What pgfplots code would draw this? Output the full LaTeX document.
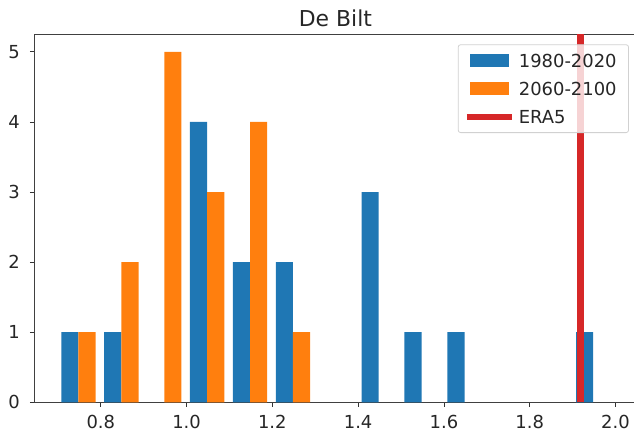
\documentclass[border=0pt]{standalone}
\usepackage{fontspec}
\setmainfont{DejaVu Sans}
\usepackage{pgfplots}
\pgfplotsset{compat=1.18}
\definecolor{tabblue}{HTML}{1F77B4}
\definecolor{taborange}{HTML}{FF7F0E}
\definecolor{tabred}{HTML}{D62728}

\begin{document}
\begin{tikzpicture}
\useasboundingbox (-34.3bp,-29.7bp) rectangle (599.7bp,402.3bp);
\begin{axis}[
    at={(0,0)}, anchor=south west,
    scale only axis, width=602.2bp, height=368bp,
    xmin=0.645, xmax=2.049, ymin=0, ymax=5.25,
    xtick={0.8,1.0,1.2,1.4,1.6,1.8,2.0},
    ytick={0,1,2,3,4,5},
    /pgf/number format/assume math mode=true,
    ticklabel style={font=\fontsize{18}{21.6}\selectfont, text=black!85},
    xticklabel style={inner sep=0pt, yshift=-8bp,
        /pgf/number format/fixed, /pgf/number format/fixed zerofill,
        /pgf/number format/precision=1},
    yticklabel style={inner sep=0pt, xshift=-9.8bp},
    tick align=outside, tick pos=left, major tick length=4.5bp,
    tick style={black!80, line width=0.8bp},
    axis line style={black!75, line width=0.8bp},
    title={De Bilt},
    title style={at={(axis description cs:0.5,1)}, anchor=base, yshift=2.3bp,
        inner sep=0pt, font=\fontsize{22}{26}\selectfont, text=black!85},
    legend style={at={(axis description cs:0.9875,0.9728)}, anchor=north east,
        draw=black!18, line width=0.8bp, rounded corners=2.5bp,
        fill=white, fill opacity=0.8, text opacity=1,
        font=\fontsize{18}{21.6}\selectfont, text=black!85,
        inner xsep=5.4bp, inner ysep=9bp, row sep=15bp,
        cells={anchor=west},
        nodes={inner sep=0pt, text height=13.3bp, text depth=0pt,
            text width=104.3bp, align=left},
        /tikz/every odd column/.append style={column sep=3.6bp}},
]

% 1980-2020 (bin centres 0.748 + 0.1k)
\addplot[ybar, bar width=0.04, bar shift=-0.02, fill=tabblue, draw=none,
    legend image code/.code={\fill[tabblue, fill opacity=1, sharp corners] (0bp,-6.65bp) rectangle (38.3bp,6.65bp);}]
    coordinates {(0.748,1) (0.848,1) (1.048,4) (1.148,2) (1.248,2)
                 (1.448,3) (1.548,1) (1.648,1) (1.948,1)};
\addlegendentry{1980-2020}

% 2060-2100
\addplot[ybar, bar width=0.04, bar shift=0.02, fill=taborange, draw=none,
    legend image code/.code={\fill[taborange, fill opacity=1, sharp corners] (0bp,-6.65bp) rectangle (38.3bp,6.65bp);}]
    coordinates {(0.748,1) (0.848,2) (0.948,5) (1.048,3) (1.148,4) (1.248,1)};
\addlegendentry{2060-2100}

% ERA5
\addplot[tabred, line width=6.7bp,
    legend image code/.code={\draw[tabred, line width=6.7bp, sharp corners] (-3.35bp,0bp) -- (41.65bp,0bp);}]
    coordinates {(1.9177,0) (1.9177,5.25)};
\addlegendentry{ERA5}

\end{axis}
\end{tikzpicture}
\end{document}
